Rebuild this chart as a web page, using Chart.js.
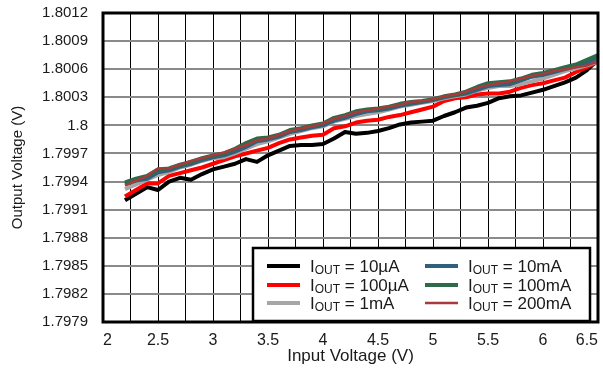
<!DOCTYPE html>
<html>
<head>
<meta charset="utf-8">
<script src="https://cdn.jsdelivr.net/npm/chart.js@4/dist/chart.umd.min.js"></script>
<style>
  html, body { margin: 0; padding: 0; background: #fff; }
  #wrap { width: 603px; height: 372px; }
</style>
</head>
<body>
<div id="wrap"><canvas id="chart" width="603" height="372"></canvas></div>
<script>
// input voltage sweep (V)
var vin = [2.2, 2.3, 2.4, 2.5, 2.6, 2.7, 2.8, 2.9, 3.0, 3.1,
           3.2, 3.3, 3.4, 3.5, 3.6, 3.7, 3.8, 3.9, 4.0, 4.1,
           4.2, 4.3, 4.4, 4.5, 4.6, 4.7, 4.8, 4.9, 5.0, 5.1,
           5.2, 5.3, 5.4, 5.5, 5.6, 5.7, 5.8, 5.9, 6.0, 6.1,
           6.2, 6.3, 6.4, 6.5];

// output voltage (V) per load current
var vout10uA = [1.79920, 1.79927, 1.79934, 1.79931, 1.79940, 1.79944, 1.79942, 1.79948, 1.79953, 1.79956,
                1.79959, 1.79964, 1.79961, 1.79968, 1.79973, 1.79978, 1.79979, 1.79979, 1.79980, 1.79986,
                1.79993, 1.79991, 1.79992, 1.79994, 1.79997, 1.80001, 1.80003, 1.80004, 1.80005, 1.80010,
                1.80014, 1.80019, 1.80021, 1.80024, 1.80029, 1.80031, 1.80032, 1.80035, 1.80038, 1.80042,
                1.80046, 1.80051, 1.80059, 1.80070];
var vout100uA = [1.79924, 1.79931, 1.79938, 1.79938, 1.79946, 1.79949, 1.79952, 1.79955, 1.79959, 1.79963,
                 1.79967, 1.79970, 1.79973, 1.79976, 1.79981, 1.79985, 1.79987, 1.79989, 1.79990, 1.79997,
                 1.79999, 1.80003, 1.80005, 1.80006, 1.80009, 1.80011, 1.80014, 1.80017, 1.80020, 1.80026,
                 1.80029, 1.80030, 1.80033, 1.80034, 1.80034, 1.80036, 1.80040, 1.80043, 1.80045, 1.80048,
                 1.80051, 1.80057, 1.80062, 1.80068];
var vout1mA = [1.79932, 1.79937, 1.79942, 1.79947, 1.79950, 1.79955, 1.79958, 1.79962, 1.79965, 1.79966,
               1.79970, 1.79975, 1.79980, 1.79983, 1.79987, 1.79991, 1.79994, 1.79997, 1.79999, 1.80004,
               1.80007, 1.80010, 1.80012, 1.80014, 1.80017, 1.80020, 1.80022, 1.80024, 1.80026, 1.80029,
               1.80031, 1.80033, 1.80037, 1.80040, 1.80042, 1.80042, 1.80044, 1.80047, 1.80050, 1.80054,
               1.80058, 1.80061, 1.80064, 1.80068];
var vout10mA = [1.79937, 1.79941, 1.79943, 1.79950, 1.79952, 1.79956, 1.79959, 1.79963, 1.79966, 1.79968,
                1.79972, 1.79977, 1.79983, 1.79985, 1.79988, 1.79993, 1.79995, 1.79998, 1.80000, 1.80005,
                1.80008, 1.80012, 1.80015, 1.80016, 1.80018, 1.80021, 1.80023, 1.80025, 1.80027, 1.80030,
                1.80032, 1.80034, 1.80038, 1.80042, 1.80043, 1.80044, 1.80048, 1.80052, 1.80054, 1.80057,
                1.80060, 1.80063, 1.80067, 1.80072];
var vout100mA = [1.79939, 1.79943, 1.79946, 1.79953, 1.79954, 1.79958, 1.79961, 1.79965, 1.79968, 1.79970,
                 1.79975, 1.79981, 1.79986, 1.79987, 1.79990, 1.79995, 1.79997, 1.80000, 1.80002, 1.80008,
                 1.80011, 1.80015, 1.80017, 1.80018, 1.80020, 1.80023, 1.80025, 1.80026, 1.80028, 1.80031,
                 1.80033, 1.80036, 1.80041, 1.80045, 1.80046, 1.80047, 1.80050, 1.80054, 1.80056, 1.80059,
                 1.80062, 1.80065, 1.80070, 1.80075];
var vout200mA = [1.79936, 1.79941, 1.79946, 1.79954, 1.79954, 1.79958, 1.79962, 1.79965, 1.79968, 1.79971,
                 1.79975, 1.79979, 1.79984, 1.79986, 1.79990, 1.79994, 1.79997, 1.79999, 1.80002, 1.80007,
                 1.80010, 1.80014, 1.80016, 1.80018, 1.80020, 1.80022, 1.80025, 1.80026, 1.80028, 1.80031,
                 1.80033, 1.80036, 1.80040, 1.80043, 1.80045, 1.80047, 1.80050, 1.80053, 1.80055, 1.80058,
                 1.80060, 1.80062, 1.80064, 1.80068];

var loadNames = ['10µA', '100µA', '1mA', '10mA', '100mA', '200mA'];

// axis ticks
var xTicks = [2, 2.25, 2.5, 2.75, 3, 3.25, 3.5, 3.75, 4, 4.25, 4.5, 4.75, 5, 5.25, 5.5, 5.75, 6, 6.25, 6.5];
var xTickLabels = ['2', '', '2.5', '', '3', '', '3.5', '', '4', '', '4.5', '', '5', '', '5.5', '', '6', '', '6.5'];
var yTicks = [1.7979, 1.7982, 1.7985, 1.7988, 1.7991, 1.7994, 1.7997, 1.8, 1.8003, 1.8006, 1.8009, 1.8012];
var yTickLabels = ['1.7979', '1.7982', '1.7985', '1.7988', '1.7991', '1.7994', '1.7997', '1.8', '1.8003', '1.8006', '1.8009', '1.8012'];

var seriesColors = ['#000000', '#ff0000', '#a6a6a6', '#31607f', '#2d6b4b', '#a83a3a'];
var seriesWidths = [4, 4, 4, 4, 4, 2.5];
var series = [vout10uA, vout100uA, vout1mA, vout10mA, vout100mA, vout200mA];

var textColor = '#1a1a1a';
var fontFamily = '"Liberation Sans", Arial, Helvetica, sans-serif';

function toPoints(values) {
  return vin.map(function (v, i) { return { x: v, y: values[i] }; });
}

var datasets = series.map(function (values, i) {
  return {
    label: 'IOUT = ' + loadNames[i],
    data: toPoints(values),
    borderColor: seriesColors[i],
    backgroundColor: seriesColors[i],
    borderWidth: seriesWidths[i],
    borderJoinStyle: 'round',
    pointRadius: 0,
    tension: 0,
    fill: false,
    order: series.length - i   // black at the bottom, 200mA on top
  };
});

// plot frame + two-column legend with subscripted "OUT"
var framePlugin = {
  id: 'frameAndLegend',
  afterDraw: function (chart) {
    var ctx = chart.ctx;
    var a = chart.chartArea;
    ctx.save();
    ctx.strokeStyle = '#000';
    ctx.lineWidth = 3;
    ctx.strokeRect(a.left, a.top, a.right - a.left, a.bottom - a.top);

    // legend box
    ctx.fillStyle = '#fff';
    ctx.fillRect(253, 248, 337, 73);
    ctx.lineWidth = 2.5;
    ctx.strokeRect(253, 248, 337, 73);

    var rows = [266, 285, 303];
    var cols = [{ line: 267, text: 310 }, { line: 425, text: 468 }];
    chart.data.datasets.forEach(function (ds, i) {
      var col = cols[Math.floor(i / 3)];
      var y = rows[i % 3];
      ctx.strokeStyle = ds.borderColor;
      ctx.lineWidth = ds.borderWidth;
      ctx.beginPath();
      ctx.moveTo(col.line, y);
      ctx.lineTo(col.line + 33, y);
      ctx.stroke();

      ctx.fillStyle = textColor;
      ctx.textBaseline = 'alphabetic';
      ctx.textAlign = 'left';
      var x = col.text;
      ctx.font = '17px ' + fontFamily;
      ctx.fillText('I', x, y + 6);
      x += ctx.measureText('I').width;
      ctx.font = '12px ' + fontFamily;
      ctx.fillText('OUT', x, y + 8);
      x += ctx.measureText('OUT').width;
      ctx.font = '17px ' + fontFamily;
      ctx.fillText(' = ' + ds.label.split(' = ')[1], x, y + 6);
    });
    ctx.restore();
  }
};

new Chart(document.getElementById('chart'), {
  type: 'line',
  data: { datasets: datasets },
  options: {
    responsive: false,
    animation: false,
    layout: { padding: { top: 13, right: 5, left: 0, bottom: 0 } },
    plugins: { legend: { display: false }, tooltip: { enabled: false } },
    scales: {
      x: {
        type: 'linear',
        min: 2,
        max: 6.5,
        afterBuildTicks: function (scale) {
          scale.ticks = xTicks.map(function (v) { return { value: v }; });
        },
        afterFit: function (scale) {
          scale.height = 50;
          scale.paddingLeft = 0;
          scale.paddingRight = 0;
        },
        ticks: {
          autoSkip: false,
          maxRotation: 0,
          align: 'inner',
          padding: 9,
          color: textColor,
          font: { family: fontFamily, size: 16 },
          callback: function (value, index) { return xTickLabels[index]; }
        },
        grid: { color: '#000', lineWidth: 1, drawTicks: false },
        border: { display: false },
        title: {
          display: true,
          text: 'Input Voltage (V)',
          color: textColor,
          font: { family: fontFamily, size: 17 },
          padding: { top: 5, bottom: 5 }
        }
      },
      y: {
        type: 'linear',
        min: 1.7979,
        max: 1.8012,
        afterBuildTicks: function (scale) {
          scale.ticks = yTicks.map(function (v) { return { value: v }; });
        },
        afterFit: function (scale) {
          scale.width = 103;
          scale.paddingTop = 0;
          scale.paddingBottom = 0;
        },
        ticks: {
          autoSkip: false,
          padding: 15,
          color: textColor,
          font: { family: fontFamily, size: 15 },
          callback: function (value, index) { return yTickLabels[index]; }
        },
        grid: { color: '#8a8a8a', lineWidth: 2, drawTicks: false },
        border: { display: false },
        title: {
          display: true,
          text: 'Output Voltage (V)',
          color: textColor,
          font: { family: fontFamily, size: 15 },
          padding: { top: 9, bottom: 9 }
        }
      }
    }
  },
  plugins: [framePlugin]
});
</script>
</body>
</html>
